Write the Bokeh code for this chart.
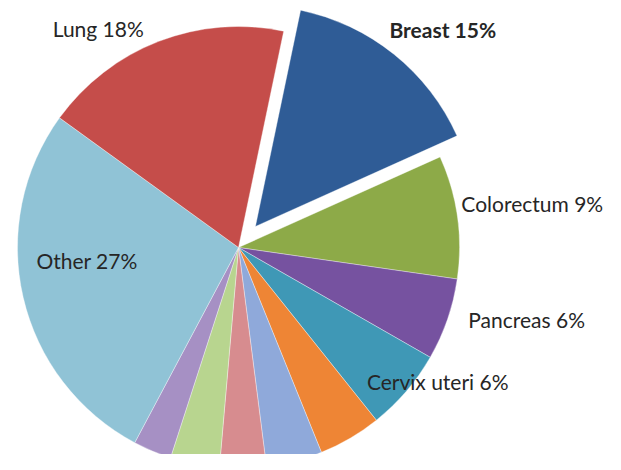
import math
from bokeh.plotting import figure
from bokeh.models import Range1d, ColumnDataSource
from bokeh.core.properties import value
from bokeh.embed import file_html
from bokeh.resources import INLINE

# ---- data (percent shares, clockwise from the Breast slice) ----
categories = ["Breast", "Colorectum", "Pancreas", "Cervix uteri",
              "", "", "", "", "", "Other", "Lung"]
shares = [15, 9, 6, 6, 4.6, 4.1, 3.4, 3.6, 2.8, 27.2, 18.3]
label_pct = [15, 9, 6, 6, None, None, None, None, None, 27, 18]
colors = ["#2F5C96", "#8DAA48", "#7652A0", "#3F98B6", "#EE8535", "#8FA9DA",
          "#D78C8F", "#B8D58F", "#A690C4", "#90C3D6", "#C54D4A"]
exploded = [True] + [False] * 10

# ---- layout ----
W, H = 605, 454
cx, cy, R = 238, H - 247, 221
start_deg = 78.2
explode_px = 27
# label placement: radius from centre and angular shift from slice mid-angle
label_r = [299, 297, 297, 240, 0, 0, 0, 0, 0, 152, 260]
label_shift = [-4.3, 0.5, 5.0, 6.7, 0, 0, 0, 0, 0, -8.2, 11.5]

total = sum(shares)
xs, ys, sa, ea, mids = [], [], [], [], []
a = start_deg
for s, ex in zip(shares, exploded):
    span = 360.0 * s / total
    mid = a - span / 2
    ox = explode_px * math.cos(math.radians(mid)) if ex else 0
    oy = explode_px * math.sin(math.radians(mid)) if ex else 0
    xs.append(cx + ox)
    ys.append(cy + oy)
    sa.append(math.radians(a - span))
    ea.append(math.radians(a))
    mids.append(mid)
    a -= span

src = ColumnDataSource(dict(x=xs, y=ys, start=sa, end=ea, color=colors))

p = figure(width=W, height=H, output_backend="svg", toolbar_location=None,
           x_range=Range1d(0, W), y_range=Range1d(0, H), min_border=0)
p.axis.visible = False
p.grid.visible = False
p.outline_line_color = None
p.background_fill_color = "white"

p.wedge(x="x", y="y", radius=R, start_angle="start", end_angle="end",
        fill_color="color", line_color="white", line_width=0.6, line_alpha=0.6,
        source=src)

lx, ly, lt, lw = [], [], [], []
for i, (c, pct) in enumerate(zip(categories, label_pct)):
    if pct is None:
        continue
    ang = math.radians(mids[i] + label_shift[i])
    lx.append(cx + label_r[i] * math.cos(ang))
    ly.append(cy + label_r[i] * math.sin(ang))
    lt.append(f"{c} {pct}%")
    lw.append("bold" if exploded[i] else "normal")

lsrc = ColumnDataSource(dict(x=lx, y=ly, text=lt, weight=lw))
p.text(x="x", y="y", text="text", source=lsrc, text_font=value("Lato"),
       text_font_size="21px", text_font_style="weight", text_color="#262626",
       text_align="center", text_baseline="middle")

open("out.html", "w").write(file_html(p, INLINE))
